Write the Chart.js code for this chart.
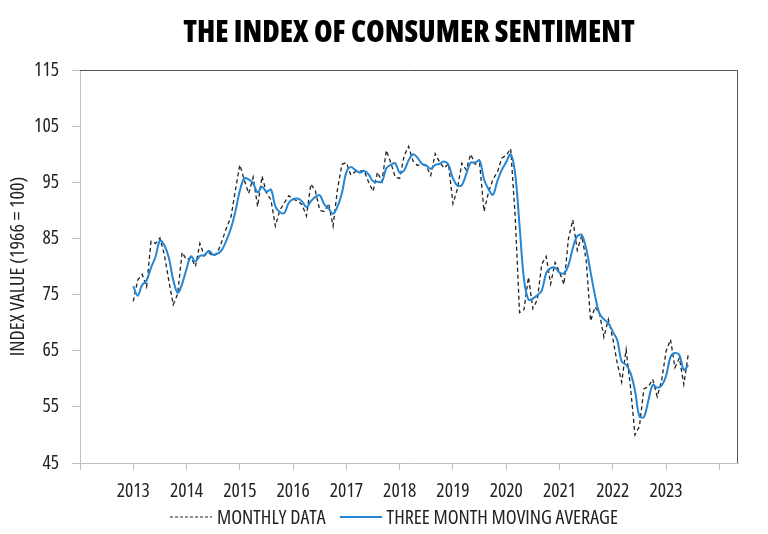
<!DOCTYPE html>
<html>
<head>
<meta charset="utf-8">
<script src="https://cdn.jsdelivr.net/npm/chart.js@4"></script>
<style>
  body { margin: 0; background: #fff; }
  #wrap { position: relative; width: 768px; height: 534px; }
  #legend { position: absolute; left: 170px; top: 503px; display: flex; align-items: center;
            font-family: 'Open Sans', sans-serif; font-stretch: condensed; font-size: 20px; color: #222; white-space: nowrap; }
  #legend svg { display: block; margin-right: 5px; }
  .legend-item { display: flex; align-items: center; margin-right: 14px; }
</style>
</head>
<body>
<div id="wrap">
  <canvas id="chart" width="768" height="534"></canvas>
  <div id="legend">
    <div class="legend-item">
      <svg width="42" height="4"><line x1="0" y1="2" x2="42" y2="2" stroke="#222" stroke-width="1.2" stroke-dasharray="3 2"/></svg>
      <span>MONTHLY DATA</span>
    </div>
    <div class="legend-item">
      <svg width="42" height="4"><line x1="0" y1="2" x2="42" y2="2" stroke="#2486d4" stroke-width="2"/></svg>
      <span>THREE MONTH MOVING AVERAGE</span>
    </div>
  </div>
</div>
<script>
const startYear = 2013;
const yearLabels = ['2013', '2014', '2015', '2016', '2017', '2018', '2019', '2020', '2021', '2022', '2023'];

// monthly readings, Jan 2013 .. Jun 2023
const monthly = [
  73.8, 77.6, 78.6, 76.4, 84.5, 84.1, 85.1, 82.1, 77.5, 73.2, 75.1, 82.5,
  81.2, 81.6, 80.0, 84.1, 81.9, 82.5, 81.8, 82.5, 84.6, 86.9, 88.8, 93.6,
  98.1, 95.4, 93.0, 95.9, 90.7, 96.1, 93.1, 91.9, 87.2, 90.0, 91.3, 92.6,
  92.0, 91.7, 91.0, 89.0, 94.7, 93.5, 90.0, 89.8, 91.2, 87.2, 93.8, 98.2,
  98.5, 96.3, 96.9, 97.0, 97.1, 95.0, 93.4, 96.8, 95.1, 100.7, 98.5, 95.9,
  95.7, 99.7, 101.4, 98.8, 98.0, 98.2, 97.9, 96.2, 100.1, 98.6, 97.5, 98.3,
  91.2, 93.8, 98.4, 97.2, 100.0, 98.2, 98.4, 89.8, 93.2, 95.5, 96.8, 99.3,
  99.8, 101.0, 89.1, 71.8, 72.3, 78.1, 72.5, 74.1, 80.4, 81.8, 76.9, 80.7,
  79.0, 76.8, 84.9, 88.3, 82.9, 85.5, 81.2, 70.3, 72.8, 71.7, 67.4, 70.6,
  67.2, 62.8, 59.4, 65.2, 58.4, 50.0, 51.5, 58.2, 58.6, 59.9, 56.8, 59.7,
  64.9, 67.0, 62.0, 63.7, 59.0, 64.4
];

// three month moving average, same months
const movingAvg = [
  76.5, 74.8, 76.7, 77.5, 79.8, 81.7, 84.6, 83.8, 81.6, 77.6, 75.3, 76.9,
  79.6, 81.8, 80.9, 81.9, 82.0, 82.8, 82.1, 82.3, 83.0, 84.7, 86.8, 89.8,
  93.5, 95.7, 95.5, 94.8, 93.2, 94.2, 93.3, 93.7, 90.7, 89.7, 89.5, 91.3,
  92.0, 92.1, 91.6, 90.6, 91.6, 92.4, 92.7, 91.1, 90.3, 89.4, 90.7, 93.1,
  96.8, 97.7, 97.2, 96.7, 97.0, 96.4, 95.2, 95.1, 95.1, 97.5, 98.1, 98.4,
  96.7, 97.1, 98.9, 100.0, 99.4, 98.3, 98.0, 97.4, 98.1, 98.3, 98.7, 98.1,
  95.7, 94.4, 94.5, 96.5, 98.5, 98.5, 98.9, 95.5, 93.8, 92.8, 95.2, 97.2,
  98.6, 100.0, 96.6, 87.3, 77.7, 74.1, 74.3, 74.9, 75.7, 78.8, 79.7, 79.8,
  78.9, 78.8, 80.2, 83.3, 85.4, 85.6, 83.2, 79.0, 74.8, 71.6, 70.6, 69.9,
  68.4, 66.9, 63.1, 62.5, 61.0, 57.9, 53.3, 53.2, 56.1, 58.9, 58.4, 58.8,
  60.5, 63.9, 64.6, 64.2, 61.6, 62.4
];

const toPoints = arr => arr.map((v, i) => ({ x: startYear + i / 12, y: v }));

// Open Sans narrow cut, stretch goes in with the weight so the canvas picks it up
const tickFont = { family: "'Open Sans', sans-serif", weight: '400 condensed', size: 19.5 };

// dark frame on top and right of the plot
const framePlugin = {
  id: 'frame',
  afterDraw(chart) {
    const { ctx, chartArea: a } = chart;
    ctx.save();
    ctx.strokeStyle = '#555';
    ctx.lineWidth = 1;
    ctx.beginPath();
    ctx.moveTo(a.left, a.top + 0.5);
    ctx.lineTo(a.right - 0.5, a.top + 0.5);
    ctx.lineTo(a.right - 0.5, a.bottom);
    ctx.stroke();
    ctx.restore();
  }
};

new Chart(document.getElementById('chart'), {
  type: 'line',
  data: {
    datasets: [
      {
        label: 'THREE MONTH MOVING AVERAGE',
        data: toPoints(movingAvg),
        borderColor: '#2486d4',
        borderWidth: 2,
        pointRadius: 0,
        tension: 0.35,
        fill: false
      },
      {
        label: 'MONTHLY DATA',
        data: toPoints(monthly),
        borderColor: '#222',
        borderWidth: 1.3,
        borderDash: [4, 3],
        pointRadius: 0,
        tension: 0,
        fill: false
      }
    ]
  },
  options: {
    responsive: false,
    animation: false,
    layout: { padding: { left: 0, right: 30, top: 0, bottom: 37 } },
    plugins: {
      legend: { display: false },
      tooltip: { enabled: false },
      title: {
        display: true,
        text: 'THE INDEX OF CONSUMER SENTIMENT',
        fullSize: false,
        color: '#000',
        font: { family: "'Open Sans', sans-serif", size: 30, weight: '800 condensed' },
        padding: { top: 15.1, bottom: 18.9 }
      }
    },
    scales: {
      x: {
        type: 'linear',
        min: 2012,
        max: 2024.35,
        afterFit: s => { s.height = 34; },
        border: { color: '#bfbfbf' },
        grid: { drawOnChartArea: false, tickLength: 7, color: '#bfbfbf' },
        ticks: {
          stepSize: 1,
          includeBounds: false,
          autoSkip: false,
          maxRotation: 0,
          padding: 10,
          color: '#222',
          font: tickFont,
          callback: v => yearLabels.includes(String(v)) ? String(v) : ''
        }
      },
      y: {
        min: 45,
        max: 115,
        afterFit: s => { s.width = 80; },
        border: { color: '#bfbfbf' },
        grid: { drawOnChartArea: false, tickLength: 8, color: '#bfbfbf' },
        ticks: { stepSize: 10, padding: 13, color: '#222', font: tickFont },
        title: {
          display: true,
          text: 'INDEX VALUE (1966 = 100)',
          color: '#222',
          font: { family: "'Open Sans', sans-serif", weight: '400 condensed', size: 20 },
          padding: { top: 6, bottom: 0 }
        }
      }
    }
  },
  plugins: [framePlugin]
});
</script>
</body>
</html>
